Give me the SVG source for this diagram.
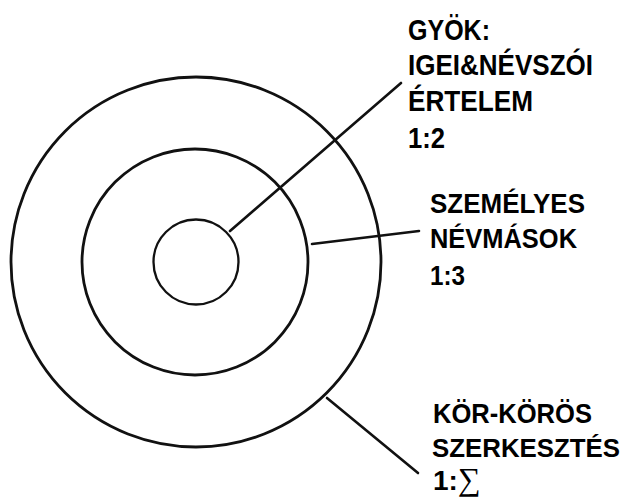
<svg xmlns="http://www.w3.org/2000/svg" width="631" height="503" viewBox="0 0 631 503">
<style>
.ring{fill:none;stroke:#111;stroke-width:2.8}
.conn{stroke:#111;stroke-width:2.6;fill:none;stroke-linecap:round}
.lbl{font-family:"Liberation Sans",Arial,sans-serif;font-weight:bold;fill:#000}
</style>
<rect width="631" height="503" fill="#fff"/>
<g id="outer-ring"><circle class="ring" cx="196" cy="262" r="185"/></g>
<g id="middle-ring"><circle class="ring" cx="195" cy="262" r="113"/></g>
<g id="inner-ring"><circle class="ring" cx="196" cy="262" r="42.5" style="stroke-width:2.3"/></g>
<g id="connectors">
<path class="conn" d="M230 231 L401 83"/>
<path class="conn" d="M312 244 L419 231"/>
<path class="conn" d="M327 398 L418 473"/>
</g>
<g id="label-root" class="lbl" font-size="30">
<text x="408" y="40" textLength="82" lengthAdjust="spacingAndGlyphs">GYÖK:</text>
<text x="408" y="75" textLength="185" lengthAdjust="spacingAndGlyphs">IGEI&amp;NÉVSZÓI</text>
<text x="408" y="111" textLength="125" lengthAdjust="spacingAndGlyphs">ÉRTELEM</text>
<text x="408" y="148" textLength="37" lengthAdjust="spacingAndGlyphs">1:2</text>
</g>
<g id="label-pronouns" class="lbl" font-size="28">
<text x="430" y="213" textLength="155" lengthAdjust="spacingAndGlyphs">SZEMÉLYES</text>
<text x="430" y="248" textLength="147" lengthAdjust="spacingAndGlyphs">NÉVMÁSOK</text>
<text x="430" y="285" textLength="35" lengthAdjust="spacingAndGlyphs">1:3</text>
</g>
<g id="label-circular" class="lbl" font-size="28">
<text x="433" y="423" textLength="159" lengthAdjust="spacingAndGlyphs">KÖR-KÖRÖS</text>
<text x="432" y="457" font-size="26.5" textLength="188" lengthAdjust="spacingAndGlyphs">SZERKESZTÉS</text>
<text x="433" y="490">1:<tspan font-family="'Liberation Serif','DejaVu Serif',serif" font-weight="normal" font-size="32">∑</tspan></text>
</g>
</svg>
